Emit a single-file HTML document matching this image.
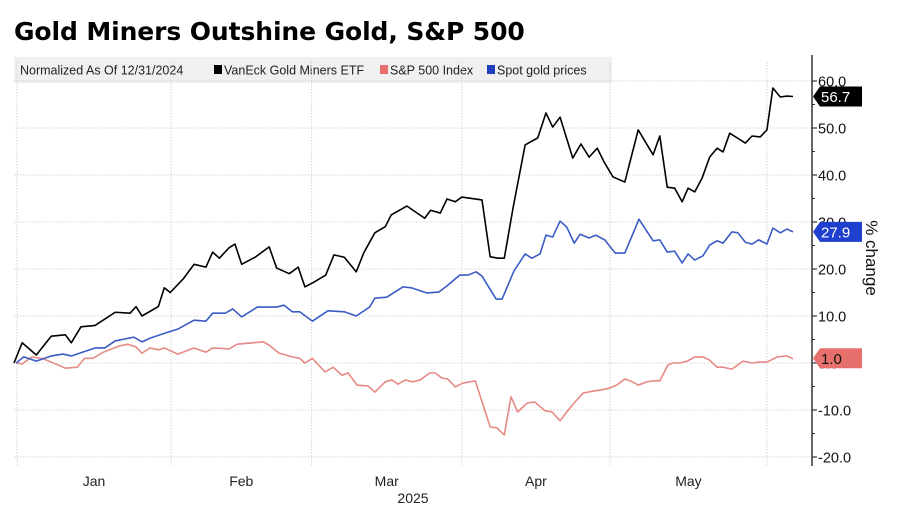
<!DOCTYPE html>
<html><head><meta charset="utf-8"><style>
body{margin:0;background:#fff;width:900px;height:510px;overflow:hidden;font-family:"Liberation Sans","DejaVu Sans",sans-serif}
#title{position:absolute;left:14px;top:17px;font-family:"DejaVu Sans",sans-serif;font-size:25px;font-weight:bold;color:#000;letter-spacing:-0.1px}
svg{position:absolute;left:0;top:0}
</style></head><body>
<div id="title">Gold Miners Outshine Gold, S&amp;P 500</div>
<svg id="chart" width="900" height="510"></svg>
<script>
const yTicks=[-20,-10,0,10,20,30,40,50,60];
const monthStarts=[0.4,21.1,40,60.2,80.1,101.2];
const monthLabels=["Jan","Feb","Mar","Apr","May"];
const minersDays=[0,1.1,3,5,6.9,7.7,9,10.9,13.6,15.6,16.4,17.2,19.4,20.2,21,22.8,24.2,25.8,26.7,27.6,28.9,29.7,30.6,32.4,34.3,35.3,37,38.2,39.1,40.3,41.9,43,44.4,46,47,48.5,49.9,50.7,52.8,55.2,56,57.3,58.2,59.3,60.2,62.9,64,65.1,65.9,67.1,68.7,70.4,71.5,72.4,73.4,75.1,76.2,77.3,78.4,79.3,80.5,82.1,83.9,85.9,86.8,87.8,88.8,89.8,90.6,91.5,92.5,93.5,94.5,95.3,96.2,97.2,98.3,99.2,100.3,101.2,102,103,103.9,104.7];
const minersVals=[0,4.3,1.7,5.7,6,4.3,7.7,8,10.8,10.6,12,10,12,16,15,18,21,20.4,23.6,22.3,24.5,25.3,21,22.5,24.7,20.2,19,20.4,16.2,17.2,18.7,23,22.5,19.4,23.4,27.7,29,31.5,33.4,30.8,32.5,31.9,34.9,34.3,35.3,34.7,22.6,22.3,22.3,33.2,46.4,47.9,53.2,50.2,52.3,43.6,46.6,43.8,45.7,42.8,39.6,38.5,49.6,44.3,48.3,37.4,37.2,34.3,37.2,36.4,39.4,43.8,45.7,44.9,48.9,47.9,46.8,48.3,48.1,49.6,58.5,56.6,56.8,56.7];
const goldDays=[0.3,1.3,3,5,6.6,7.7,10.9,12.2,13.6,16.1,17.2,18.3,20.4,22,24.2,25.8,26.7,28.4,29.4,30.6,32.7,35.3,36.3,37.4,38.4,40.1,42.2,44.4,46,47.8,48.5,50.1,52.3,53.4,55.5,57.1,58.2,59.9,61,62.1,62.9,64.8,65.6,67.2,68.7,69.6,70.7,71.5,72.4,73.4,74.3,75.3,76.1,77.3,78.2,79.4,80.8,82.1,84,85.9,86.8,87.8,88.8,89.8,90.6,91.5,92.6,93.5,94.5,95.3,96.5,97.3,98.3,99.2,100.1,101.2,102,103,103.9,104.7];
const goldVals=[0,1.3,0.4,1.5,1.9,1.5,3.2,3.2,4.7,5.5,4.5,5.3,6.4,7.2,9.1,8.9,10.6,10.6,11.5,9.8,11.9,11.9,12.3,10.9,10.9,8.9,11.1,10.9,10,11.9,13.8,14,16.2,16,14.9,15.1,16.4,18.7,18.7,19.4,18.5,13.6,13.6,19.6,23.2,22.3,23.2,27.2,26.8,30.2,28.9,25.5,27.4,26.6,27.2,26.2,23.4,23.4,30.6,26,26.2,23.6,23.8,21.3,23.2,21.9,22.8,25.1,26,25.5,27.9,27.7,25.7,25.3,26.2,25.3,28.7,27.7,28.5,27.9];
const spxDays=[0.3,1.1,2.4,3.9,5,6.9,8.5,9.5,10.6,12,14.1,15.3,16.4,17.2,18.3,19.4,20.2,22,24.2,25.8,26.7,28.9,30,32.1,33.5,34.3,35.6,37.4,38.4,39.1,40.1,41.8,42.9,44.1,44.9,46.1,47.6,48.5,49.9,50.8,51.6,52.6,53.6,54.6,55.9,56.6,57.5,58.3,59.3,60.3,62,64,64.9,65.9,66.8,67.7,69,70,71.4,72.3,73.4,74.3,75.4,76.5,77.8,79,80.1,81,82.1,83.1,83.9,85.1,85.9,86.8,87.9,88.6,89.5,90.5,91.5,92.6,93.5,94.5,95.3,96.5,98,99.2,100.1,101.2,102.6,103.9,104.7];
const spxVals=[0,-0.2,1.3,0.9,0.2,-1.1,-0.9,1,1,2.3,3.6,4,3.4,2.1,3.2,2.8,3.2,1.9,3.2,2.3,3.2,3,4,4.3,4.5,3.8,2.1,1.3,1,0,1,-1.9,-0.9,-2.6,-2.1,-4.7,-4.9,-6.2,-4,-3.6,-4.5,-3.6,-4,-3.6,-2.1,-2.1,-3.2,-3.4,-5.1,-4.3,-3.8,-13.6,-13.8,-15.3,-7.2,-10.4,-8.5,-8.3,-10.2,-10.4,-12.3,-10.4,-8.3,-6.4,-6,-5.7,-5.3,-4.7,-3.4,-4,-4.7,-4,-3.8,-3.8,-0.4,0,0,0.4,1.3,1.3,0.6,-0.9,-0.9,-1.3,0.4,0,0.2,0.2,1.3,1.5,0.9];
const lastLabels=["56.7","27.9","1.0"];

const NS="http://www.w3.org/2000/svg";
const svg=document.getElementById('chart');
const X=d=>14+d*7.44;
const Y=v=>363-v*4.7;
function mk(tag,attrs,parent){const e=document.createElementNS(NS,tag);for(const k in attrs)e.setAttribute(k,attrs[k]);(parent||svg).appendChild(e);return e;}

const lg=mk('rect',{x:14,y:57,width:598,height:26,fill:'#f0f0f0'});


const legendItems=[["Normalized As Of 12/31/2024",null,20],["VanEck Gold Miners ETF","#000",214],["S&P 500 Index","#e8706c",380],["Spot gold prices","#1f3fbf",487]];
legendItems.forEach((it,i)=>{
  if(it[1]){const sw=mk('rect',{x:it[2],y:65,width:8,height:9,fill:it[1]});
    
    }
  const t=mk('text',{x:it[1]?it[2]+10:it[2],y:74.5,'font-size':12.5,fill:'#222'});
  t.textContent=it[0];
  
  
});

yTicks.forEach(v=>{
  const g=mk('line',{x1:14,x2:812,y1:Y(v),y2:Y(v),stroke:'#d4d4d4','stroke-dasharray':'1.5,1.5'});
  
  
  const tk=mk('line',{x1:812,x2:817,y1:Y(v),y2:Y(v),stroke:'#333','stroke-width':1.2});
  
  
  const t=mk('text',{x:818,y:Y(v)+5.5,'font-size':14.5,fill:'#111'});
  t.textContent=v.toFixed(1);
  
  
  if(v<60){const m=mk('line',{x1:812,x2:815,y1:Y(v+5),y2:Y(v+5),stroke:'#333'});
    
    }
});
monthStarts.forEach(d=>{
  const g=mk('line',{x1:X(d),x2:X(d),y1:62,y2:465,stroke:'#d4d4d4','stroke-dasharray':'1.5,1.5'});
  
  
});
monthLabels.forEach((m,i)=>{
  const t=mk('text',{x:(X(monthStarts[i])+X(monthStarts[i+1]))/2,y:486,'font-size':14,fill:'#222','text-anchor':'middle'});
  t.textContent=m;
  
  
});
const yr=mk('text',{x:413,y:503,'font-size':14,fill:'#222','text-anchor':'middle'});
yr.textContent='2025';


const ax=mk('line',{x1:812,x2:812,y1:55,y2:466,stroke:'#333','stroke-width':1.5});


const yt=mk('text',{x:0,y:0,'font-size':17,fill:'#111',transform:'translate(866,258) rotate(90)','text-anchor':'middle'});
yt.textContent='% change';



const series=[[spxDays,spxVals,'#e58a86','sp500-line'],[goldDays,goldVals,'#3a5cc4','gold-line'],[minersDays,minersVals,'#000','miners-line']];
series.forEach(s=>{
  const p=mk('polyline',{points:s[0].map((d,i)=>X(d)+','+Y(s[1][i])).join(' '),fill:'none',stroke:s[2],'stroke-width':1.6,'stroke-linejoin':'round'});
  
  
});

const tagColors=[['#000','#fff'],['#1f3fcf','#fff'],['#e8706c','#111']];
[minersVals,goldVals,spxVals].forEach((vals,i)=>{
  const yv=Y(parseFloat(lastLabels[i]));
  const g=mk('g',{});
  
  
  mk('path',{d:`M813 ${yv} L820 ${yv-10} L862 ${yv-10} L862 ${yv+10} L820 ${yv+10} Z`,fill:tagColors[i][0]},g);
  const t=mk('text',{x:821,y:yv+5.5,'font-size':15,fill:tagColors[i][1]},g);
  t.textContent=lastLabels[i];
});
</script>
</body></html>
